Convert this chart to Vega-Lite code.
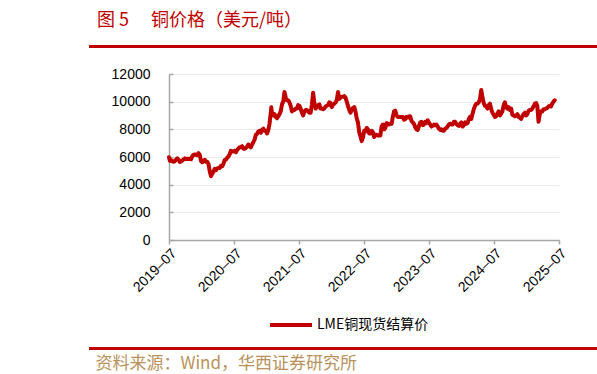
{
"$schema": "https://vega.github.io/schema/vega-lite/v6.json",
"width": 390,
"height": 166,
"autosize": {"type": "none"},
"padding": {"left": 169, "top": 74, "right": 38, "bottom": 134},
"background": "white",
"config": {"view": {"stroke": null}, "font": "Noto Sans CJK SC"},
"title": {"text": "图 5　 铜价格（美元/吨）", "anchor": "start", "frame": "group", "dx": -72, "offset": 15, "fontSize": 18, "fontWeight": "normal", "color": "#C00000", "font": "Noto Sans CJK SC"},
"resolve": {"axis": {"x": "independent", "y": "independent"}},
"data": {"values": [
{"d":"2019-07-31","v":5980},{"d":"2019-08-05","v":5720},{"d":"2019-08-12","v":5780},{"d":"2019-08-19","v":5690},{"d":"2019-08-26","v":5650},{"d":"2019-09-02","v":5700},{"d":"2019-09-09","v":5830},{"d":"2019-09-16","v":5900},{"d":"2019-09-23","v":5800},{"d":"2019-09-30","v":5640},{"d":"2019-10-07","v":5680},{"d":"2019-10-14","v":5760},{"d":"2019-10-21","v":5820},{"d":"2019-10-28","v":5900},{"d":"2019-11-04","v":5850},{"d":"2019-11-11","v":5870},{"d":"2019-11-18","v":5860},{"d":"2019-11-25","v":5880},{"d":"2019-12-02","v":5830},{"d":"2019-12-09","v":6050},{"d":"2019-12-16","v":6170},{"d":"2019-12-23","v":6180},{"d":"2019-12-30","v":6150},
{"d":"2020-01-06","v":6130},{"d":"2020-01-13","v":6280},{"d":"2020-01-20","v":6150},{"d":"2020-01-27","v":5700},{"d":"2020-02-03","v":5620},{"d":"2020-02-10","v":5700},{"d":"2020-02-17","v":5800},{"d":"2020-02-24","v":5650},{"d":"2020-03-02","v":5650},{"d":"2020-03-09","v":5500},{"d":"2020-03-16","v":4950},{"d":"2020-03-23","v":4620},{"d":"2020-03-30","v":4800},{"d":"2020-04-06","v":4950},{"d":"2020-04-13","v":5150},{"d":"2020-04-20","v":5050},{"d":"2020-04-27","v":5180},{"d":"2020-05-04","v":5200},{"d":"2020-05-11","v":5200},{"d":"2020-05-18","v":5370},{"d":"2020-05-25","v":5330},{"d":"2020-06-01","v":5500},{"d":"2020-06-08","v":5780},{"d":"2020-06-15","v":5800},{"d":"2020-06-22","v":5950},{"d":"2020-06-29","v":6030},{"d":"2020-07-06","v":6200},{"d":"2020-07-13","v":6450},{"d":"2020-07-20","v":6420},{"d":"2020-07-27","v":6400},{"d":"2020-08-03","v":6450},{"d":"2020-08-10","v":6350},{"d":"2020-08-17","v":6500},{"d":"2020-08-24","v":6620},{"d":"2020-08-31","v":6700},{"d":"2020-09-07","v":6700},{"d":"2020-09-14","v":6780},{"d":"2020-09-21","v":6600},{"d":"2020-09-28","v":6600},{"d":"2020-10-05","v":6650},{"d":"2020-10-12","v":6750},{"d":"2020-10-19","v":6900},{"d":"2020-10-26","v":6800},{"d":"2020-11-02","v":6700},{"d":"2020-11-09","v":6900},{"d":"2020-11-16","v":7070},{"d":"2020-11-23","v":7250},{"d":"2020-11-30","v":7600},{"d":"2020-12-07","v":7670},{"d":"2020-12-14","v":7850},{"d":"2020-12-21","v":7900},{"d":"2020-12-28","v":7750},
{"d":"2021-01-04","v":7970},{"d":"2021-01-11","v":8050},{"d":"2021-01-18","v":7890},{"d":"2021-01-25","v":7900},{"d":"2021-02-01","v":7700},{"d":"2021-02-08","v":7950},{"d":"2021-02-15","v":8400},{"d":"2021-02-22","v":9200},{"d":"2021-02-25","v":9600},{"d":"2021-03-01","v":9100},{"d":"2021-03-08","v":9000},{"d":"2021-03-15","v":9100},{"d":"2021-03-22","v":8900},{"d":"2021-03-29","v":8800},{"d":"2021-04-05","v":8950},{"d":"2021-04-12","v":9100},{"d":"2021-04-19","v":9300},{"d":"2021-04-26","v":9800},{"d":"2021-05-03","v":10000},{"d":"2021-05-10","v":10700},{"d":"2021-05-17","v":10300},{"d":"2021-05-24","v":10100},{"d":"2021-05-31","v":10100},{"d":"2021-06-07","v":9950},{"d":"2021-06-14","v":9700},{"d":"2021-06-21","v":9300},{"d":"2021-06-28","v":9400},{"d":"2021-07-05","v":9400},{"d":"2021-07-12","v":9500},{"d":"2021-07-19","v":9500},{"d":"2021-07-26","v":9750},{"d":"2021-08-02","v":9700},{"d":"2021-08-09","v":9500},{"d":"2021-08-16","v":9200},{"d":"2021-08-23","v":9000},{"d":"2021-08-30","v":9300},{"d":"2021-09-06","v":9400},{"d":"2021-09-13","v":9400},{"d":"2021-09-20","v":9300},{"d":"2021-09-27","v":9200},{"d":"2021-10-04","v":9200},{"d":"2021-10-11","v":9800},{"d":"2021-10-18","v":10650},{"d":"2021-10-25","v":9900},{"d":"2021-11-01","v":9500},{"d":"2021-11-08","v":9600},{"d":"2021-11-15","v":9750},{"d":"2021-11-22","v":9800},{"d":"2021-11-29","v":9500},{"d":"2021-12-06","v":9500},{"d":"2021-12-13","v":9450},{"d":"2021-12-20","v":9500},{"d":"2021-12-27","v":9650},
{"d":"2022-01-03","v":9700},{"d":"2022-01-10","v":9750},{"d":"2022-01-17","v":9950},{"d":"2022-01-24","v":9900},{"d":"2022-01-31","v":9600},{"d":"2022-02-07","v":9800},{"d":"2022-02-14","v":9850},{"d":"2022-02-21","v":9950},{"d":"2022-02-28","v":10100},{"d":"2022-03-07","v":10700},{"d":"2022-03-14","v":10200},{"d":"2022-03-21","v":10300},{"d":"2022-03-28","v":10350},{"d":"2022-04-04","v":10350},{"d":"2022-04-11","v":10400},{"d":"2022-04-18","v":10300},{"d":"2022-04-25","v":10000},{"d":"2022-05-02","v":9700},{"d":"2022-05-09","v":9400},{"d":"2022-05-16","v":9200},{"d":"2022-05-23","v":9400},{"d":"2022-05-30","v":9550},{"d":"2022-06-06","v":9600},{"d":"2022-06-13","v":9300},{"d":"2022-06-20","v":8800},{"d":"2022-06-27","v":8500},{"d":"2022-07-04","v":7800},{"d":"2022-07-11","v":7500},{"d":"2022-07-18","v":7150},{"d":"2022-07-25","v":7400},{"d":"2022-08-01","v":7900},{"d":"2022-08-08","v":7850},{"d":"2022-08-15","v":8100},{"d":"2022-08-22","v":8000},{"d":"2022-08-29","v":7700},{"d":"2022-09-05","v":7700},{"d":"2022-09-12","v":7900},{"d":"2022-09-19","v":7800},{"d":"2022-09-26","v":7450},{"d":"2022-10-03","v":7600},{"d":"2022-10-10","v":7600},{"d":"2022-10-17","v":7550},{"d":"2022-10-24","v":7550},{"d":"2022-10-31","v":7550},{"d":"2022-11-07","v":8200},{"d":"2022-11-14","v":8350},{"d":"2022-11-21","v":8000},{"d":"2022-11-28","v":8100},{"d":"2022-12-05","v":8450},{"d":"2022-12-12","v":8400},{"d":"2022-12-19","v":8350},{"d":"2022-12-26","v":8400},
{"d":"2023-01-02","v":8400},{"d":"2023-01-09","v":8900},{"d":"2023-01-16","v":9300},{"d":"2023-01-23","v":9350},{"d":"2023-01-30","v":9000},{"d":"2023-02-06","v":8900},{"d":"2023-02-13","v":8900},{"d":"2023-02-20","v":8900},{"d":"2023-02-27","v":8900},{"d":"2023-03-06","v":8900},{"d":"2023-03-13","v":8700},{"d":"2023-03-20","v":8750},{"d":"2023-03-27","v":8900},{"d":"2023-04-03","v":8850},{"d":"2023-04-10","v":8950},{"d":"2023-04-17","v":8950},{"d":"2023-04-24","v":8600},{"d":"2023-05-01","v":8500},{"d":"2023-05-08","v":8400},{"d":"2023-05-15","v":8150},{"d":"2023-05-22","v":8000},{"d":"2023-05-29","v":7950},{"d":"2023-06-05","v":8250},{"d":"2023-06-12","v":8500},{"d":"2023-06-19","v":8550},{"d":"2023-06-26","v":8300},{"d":"2023-07-03","v":8350},{"d":"2023-07-10","v":8550},{"d":"2023-07-17","v":8450},{"d":"2023-07-24","v":8650},{"d":"2023-07-31","v":8500},{"d":"2023-08-07","v":8350},{"d":"2023-08-14","v":8200},{"d":"2023-08-21","v":8250},{"d":"2023-08-28","v":8350},{"d":"2023-09-04","v":8300},{"d":"2023-09-11","v":8350},{"d":"2023-09-18","v":8200},{"d":"2023-09-25","v":8050},{"d":"2023-10-02","v":7950},{"d":"2023-10-09","v":8000},{"d":"2023-10-16","v":7900},{"d":"2023-10-23","v":7900},{"d":"2023-10-30","v":8050},{"d":"2023-11-06","v":8100},{"d":"2023-11-13","v":8200},{"d":"2023-11-20","v":8350},{"d":"2023-11-27","v":8400},{"d":"2023-12-04","v":8350},{"d":"2023-12-11","v":8350},{"d":"2023-12-18","v":8550},{"d":"2023-12-25","v":8550},
{"d":"2024-01-01","v":8400},{"d":"2024-01-08","v":8300},{"d":"2024-01-15","v":8250},{"d":"2024-01-22","v":8400},{"d":"2024-01-29","v":8500},{"d":"2024-02-05","v":8200},{"d":"2024-02-12","v":8300},{"d":"2024-02-19","v":8500},{"d":"2024-02-26","v":8400},{"d":"2024-03-04","v":8450},{"d":"2024-03-11","v":8750},{"d":"2024-03-18","v":8900},{"d":"2024-03-25","v":8750},{"d":"2024-04-01","v":9100},{"d":"2024-04-08","v":9450},{"d":"2024-04-15","v":9700},{"d":"2024-04-22","v":9850},{"d":"2024-04-29","v":9850},{"d":"2024-05-06","v":9950},{"d":"2024-05-13","v":10200},{"d":"2024-05-20","v":10850},{"d":"2024-05-27","v":10300},{"d":"2024-06-03","v":9900},{"d":"2024-06-10","v":9700},{"d":"2024-06-17","v":9650},{"d":"2024-06-24","v":9500},{"d":"2024-07-01","v":9750},{"d":"2024-07-08","v":9850},{"d":"2024-07-15","v":9450},{"d":"2024-07-22","v":9200},{"d":"2024-07-29","v":9050},{"d":"2024-08-05","v":8900},{"d":"2024-08-12","v":8950},{"d":"2024-08-19","v":9150},{"d":"2024-08-26","v":9300},{"d":"2024-09-02","v":9000},{"d":"2024-09-09","v":9150},{"d":"2024-09-16","v":9300},{"d":"2024-09-23","v":9750},{"d":"2024-09-30","v":9950},{"d":"2024-10-07","v":9600},{"d":"2024-10-14","v":9500},{"d":"2024-10-21","v":9600},{"d":"2024-10-28","v":9400},{"d":"2024-11-04","v":9500},{"d":"2024-11-11","v":9050},{"d":"2024-11-18","v":9000},{"d":"2024-11-25","v":8950},{"d":"2024-12-02","v":9000},{"d":"2024-12-09","v":9100},{"d":"2024-12-16","v":8900},{"d":"2024-12-23","v":8850},{"d":"2024-12-30","v":8750},
{"d":"2025-01-06","v":8950},{"d":"2025-01-13","v":9100},{"d":"2025-01-20","v":9200},{"d":"2025-01-27","v":9000},{"d":"2025-02-03","v":9100},{"d":"2025-02-10","v":9350},{"d":"2025-02-17","v":9400},{"d":"2025-02-24","v":9400},{"d":"2025-03-03","v":9500},{"d":"2025-03-10","v":9650},{"d":"2025-03-17","v":9850},{"d":"2025-03-24","v":9900},{"d":"2025-03-31","v":9700},{"d":"2025-04-07","v":8550},{"d":"2025-04-14","v":9100},{"d":"2025-04-21","v":9300},{"d":"2025-04-28","v":9300},{"d":"2025-05-05","v":9450},{"d":"2025-05-12","v":9450},{"d":"2025-05-19","v":9500},{"d":"2025-05-26","v":9550},{"d":"2025-06-02","v":9650},{"d":"2025-06-09","v":9700},{"d":"2025-06-16","v":9650},{"d":"2025-06-23","v":9850},{"d":"2025-06-30","v":10000},{"d":"2025-07-07","v":10100}
]},
"layer": [
{"mark": {"type": "line", "strokeWidth": 4, "strokeJoin": "round", "strokeCap": "round"},
 "encoding": {
  "x": {"field": "d", "type": "temporal",
   "scale": {"domain": [{"year": 2019, "month": 7, "date": 31, "utc": true}, {"year": 2025, "month": 7, "date": 31, "utc": true}], "nice": false},
   "axis": {"values": [{"year": 2019, "month": 7, "date": 31, "utc": true}, {"year": 2020, "month": 7, "date": 31, "utc": true}, {"year": 2021, "month": 7, "date": 31, "utc": true}, {"year": 2022, "month": 7, "date": 31, "utc": true}, {"year": 2023, "month": 7, "date": 31, "utc": true}, {"year": 2024, "month": 7, "date": 31, "utc": true}, {"year": 2025, "month": 7, "date": 31, "utc": true}],
    "format": "%Y–%m", "labelAngle": -45, "labelFont": "Liberation Sans", "labelFontSize": 14, "labelColor": "black", "labelOverlap": false, "labelBound": false, "labelFlush": false, "labelPadding": 2,
    "tickSize": 4, "tickColor": "#A6A6A6", "tickWidth": 1.5, "domainColor": "#A6A6A6", "domainWidth": 1.5, "grid": false,
    "title": "资料来源：Wind，华西证券研究所", "titleFont": "Noto Sans CJK SC", "titleFontSize": 17, "titleFontWeight": "normal", "titleColor": "#B8925A", "titleAnchor": "start", "titleAlign": "left", "titleBaseline": "middle", "titleX": -74, "titleY": 123}},
  "y": {"field": "v", "type": "quantitative",
   "scale": {"domain": [0, 12000], "nice": false, "zero": true},
   "axis": {"values": [0, 2000, 4000, 6000, 8000, 10000, 12000], "format": "d", "title": null, "labelFont": "Liberation Sans", "labelFontSize": 14, "labelColor": "black", "labelPadding": 23, "labelOverlap": false, "labelBound": false, "labelFlush": false,
    "tickSize": -4, "tickColor": "#A6A6A6", "tickWidth": 1.5, "domainColor": "#A6A6A6", "domainWidth": 1.5, "grid": true, "gridColor": "#EBEBEB", "gridWidth": 1}},
  "color": {"datum": "LME铜现货结算价", "scale": {"range": ["#C00000"]},
   "legend": {"orient": "none", "legendX": 99, "legendY": 228, "title": null, "padding": 0, "symbolType": "stroke", "symbolSize": 1764, "symbolStrokeWidth": 4, "labelFont": "Noto Sans CJK SC", "labelFontSize": 14, "labelColor": "black", "labelOffset": 3}}
 }},
{"mark": {"type": "rule", "color": "#C00000", "strokeWidth": 2},
 "encoding": {"x": {"datum": {"year": 2018, "month": 5, "date": 12, "utc": true}, "type": "temporal", "axis": null}, "x2": {"datum": {"year": 2026, "month": 3, "date": 1, "utc": true}}, "y": {"datum": 13990, "type": "quantitative", "axis": null}}},
{"mark": {"type": "rule", "color": "#C00000", "strokeWidth": 2.5},
 "encoding": {"x": {"datum": {"year": 2018, "month": 5, "date": 12, "utc": true}, "type": "temporal", "axis": null}, "x2": {"datum": {"year": 2026, "month": 3, "date": 1, "utc": true}}, "y": {"datum": -7850, "type": "quantitative", "axis": null}}}
]
}
